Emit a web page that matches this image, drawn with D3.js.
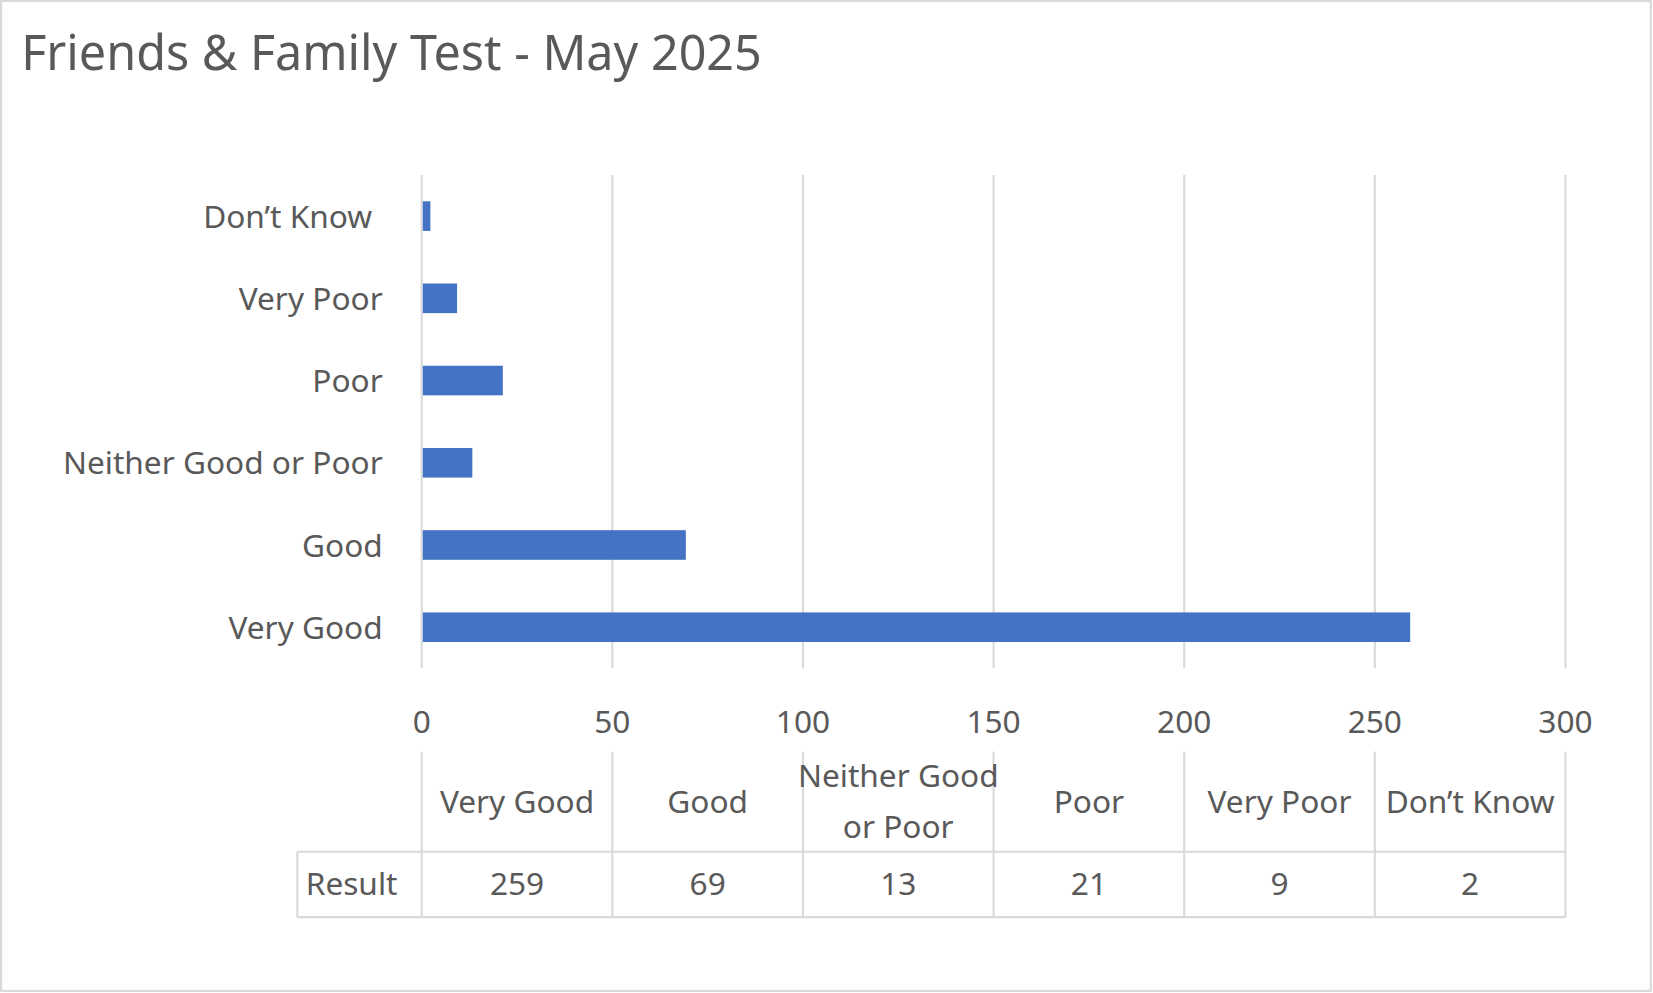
<!DOCTYPE html>
<html><head><meta charset="utf-8">
<script src="https://cdn.jsdelivr.net/npm/d3@7"></script>
<style>body{margin:0;background:#fff}text{font-family:"Noto Sans","Open Sans",sans-serif;fill:#595959}</style>
</head><body><svg id="c"></svg>
<script>
const categories = ["Very Good", "Good", "Neither Good or Poor", "Poor", "Very Poor", "Don’t Know"];
const results = [259, 69, 13, 21, 9, 2];
const ticks = [0, 50, 100, 150, 200, 250, 300];
const headerLines = [["Very Good"], ["Good"], ["Neither Good", "or Poor"], ["Poor"], ["Very Poor"], ["Don’t Know"]];

const FS = 30;
const svg = d3.select("#c").attr("width", 1653).attr("height", 993).attr("viewBox", "0 0 1568 942");
svg.append("rect").attr("x", 1).attr("y", 1).attr("width", 1565).attr("height", 939)
    .attr("fill", "#fff").attr("stroke", "#d9d9d9").attr("stroke-width", 2);
svg.append("text").attr("x", 20).attr("y", 66).attr("font-size", 46).text("Friends & Family Test - May 2025");

const x = d3.scaleLinear().domain([0, 300]).range([400, 1485]);
const y = d3.scaleBand().domain(categories.slice().reverse()).range([166, 634]).paddingInner(0.64).paddingOuter(0.32);

svg.selectAll("line.grid").data(ticks).join("line")
    .attr("x1", d => x(d)).attr("x2", d => x(d)).attr("y1", 166).attr("y2", 634)
    .attr("stroke", "#d9d9d9").attr("stroke-width", 2);

svg.selectAll("rect.bar").data(categories).join("rect")
    .attr("x", x(0) + 1).attr("y", c => y(c))
    .attr("width", (c, i) => x(results[i]) - x(0)).attr("height", y.bandwidth())
    .attr("fill", "#4472c4");

svg.selectAll("text.cat").data(categories).join("text")
    .attr("x", c => c === "Don’t Know" ? 353 : 363).attr("y", c => y(c) + y.bandwidth() / 2 + 11)
    .attr("text-anchor", "end").attr("font-size", FS).text(c => c);

svg.selectAll("text.tick").data(ticks).join("text")
    .attr("x", d => x(d)).attr("y", 695).attr("text-anchor", "middle").attr("font-size", FS).text(d => d);

const g = svg.append("g").attr("stroke", "#d9d9d9").attr("stroke-width", 2);
ticks.forEach(t => g.append("line").attr("x1", x(t)).attr("x2", x(t)).attr("y1", 713).attr("y2", 870));
g.append("line").attr("x1", 282).attr("x2", 1485).attr("y1", 808).attr("y2", 808);
g.append("line").attr("x1", 282).attr("x2", 1485).attr("y1", 870).attr("y2", 870);
g.append("line").attr("x1", 282).attr("x2", 282).attr("y1", 808).attr("y2", 870);

const colMid = i => (x(ticks[i]) + x(ticks[i + 1])) / 2;
headerLines.forEach((lines, i) => {
    const t = svg.append("text").attr("text-anchor", "middle").attr("font-size", FS);
    lines.forEach((l, j) => t.append("tspan").attr("x", colMid(i))
        .attr("y", lines.length === 1 ? 771 : 747 + j * 48).text(l));
});
svg.append("text").attr("x", 290).attr("y", 849).attr("font-size", FS).text("Result");
svg.selectAll("text.val").data(results).join("text")
    .attr("x", (d, i) => colMid(i)).attr("y", 849).attr("text-anchor", "middle").attr("font-size", FS).text(d => d);
</script></body></html>
